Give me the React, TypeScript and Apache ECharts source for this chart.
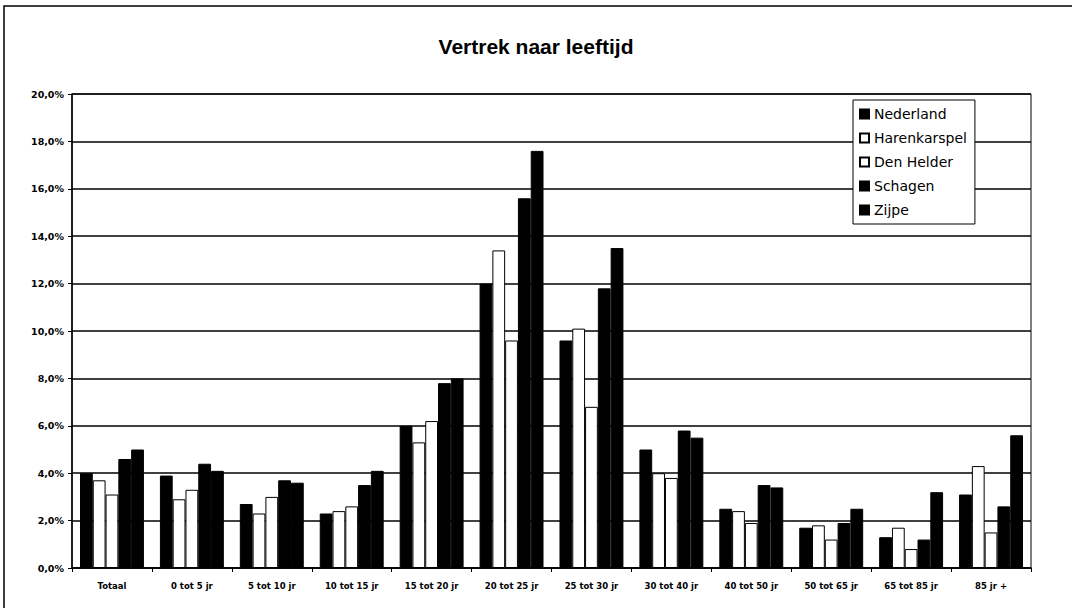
import React, { useEffect, useRef } from "react";
import * as echarts from "echarts";

const categories = [
  "Totaal", "0 tot 5 jr", "5 tot 10 jr", "10 tot 15 jr", "15 tot 20 jr", "20 tot 25 jr",
  "25 tot 30 jr", "30 tot 40 jr", "40 tot 50 jr", "50 tot 65 jr", "65 tot 85 jr", "85 jr +",
];
const nederland = [4.0, 3.9, 2.7, 2.3, 6.0, 12.0, 9.6, 5.0, 2.5, 1.7, 1.3, 3.1];
const harenkarspel = [3.7, 2.9, 2.3, 2.4, 5.3, 13.4, 10.1, 4.0, 2.4, 1.8, 1.7, 4.3];
const denHelder = [3.1, 3.3, 3.0, 2.6, 6.2, 9.6, 6.8, 3.8, 1.9, 1.2, 0.8, 1.5];
const schagen = [4.6, 4.4, 3.7, 3.5, 7.8, 15.6, 11.8, 5.8, 3.5, 1.9, 1.2, 2.6];
const zijpe = [5.0, 4.1, 3.6, 4.1, 8.0, 17.6, 13.5, 5.5, 3.4, 2.5, 3.2, 5.6];

const seriesNames = ["Nederland", "Harenkarspel", "Den Helder", "Schagen", "Zijpe"];
const seriesData = [nederland, harenkarspel, denHelder, schagen, zijpe];
const seriesFill = ["#000000", "#ffffff", "#ffffff", "#000000", "#000000"];

export default function App() {
  const ref = useRef<HTMLDivElement>(null);
  useEffect(() => {
    if (!ref.current) return;
    const chart = echarts.init(ref.current, null, { renderer: "svg" });
    chart.setOption({
      animation: false,
      backgroundColor: "#ffffff",
      title: {
        text: "Vertrek naar leeftijd",
        left: "center",
        top: 31,
        textStyle: { fontFamily: "Liberation Sans", fontWeight: "bold", fontSize: 21, color: "#000" },
      },
      graphic: [
        {
          type: "rect",
          shape: { x: 4, y: 6, width: 1100, height: 700 },
          style: { fill: "none", stroke: "#000", lineWidth: 1.5 },
          silent: true,
        },
      ],
      legend: {
        orient: "vertical",
        left: 853,
        top: 100,
        itemWidth: 9,
        itemHeight: 9,
        itemGap: 10,
        padding: [7, 8, 7, 6],
        backgroundColor: "#ffffff",
        borderColor: "#000",
        borderWidth: 1,
        textStyle: { fontFamily: "DejaVu Sans", fontSize: 14, color: "#000" },
        data: seriesNames.map((n) => ({ name: n, icon: "rect" })),
      },
      grid: {
        left: 72,
        right: 41,
        top: 94,
        bottom: 40,
        show: true,
        borderColor: "#000",
        borderWidth: 1,
        backgroundColor: "#fff",
      },
      xAxis: {
        type: "category",
        data: categories,
        axisLine: { lineStyle: { color: "#000", width: 1.5 } },
        axisTick: { show: true, length: 4, lineStyle: { color: "#000" } },
        axisLabel: {
          interval: 0,
          margin: 13,
          fontFamily: "DejaVu Sans",
          fontWeight: "bold",
          fontSize: 8.5,
          color: "#000",
        },
      },
      yAxis: {
        type: "value",
        min: 0,
        max: 20,
        interval: 2,
        axisLine: { show: true, lineStyle: { color: "#000", width: 1.5 } },
        axisTick: { show: true, length: 4, lineStyle: { color: "#000" } },
        axisLabel: {
          margin: 8,
          fontFamily: "DejaVu Sans",
          fontWeight: "bold",
          fontSize: 9.5,
          color: "#000",
          formatter: (v: number) => v.toFixed(1).replace(".", ",") + "%",
        },
        splitLine: { show: true, lineStyle: { color: "#000", width: 1.5 } },
      },
      series: seriesNames.map((name, i) => ({
        name,
        type: "bar",
        data: seriesData[i],
        barGap: "0%",
        barCategoryGap: "20%",
        itemStyle: { color: seriesFill[i], borderColor: "#000", borderWidth: 1 },
      })),
    });
    return () => chart.dispose();
  }, []);
  return (
    <div
      ref={ref}
      style={{ position: "fixed", left: 0, top: 0, width: 1072, height: 608 }}
    />
  );
}
